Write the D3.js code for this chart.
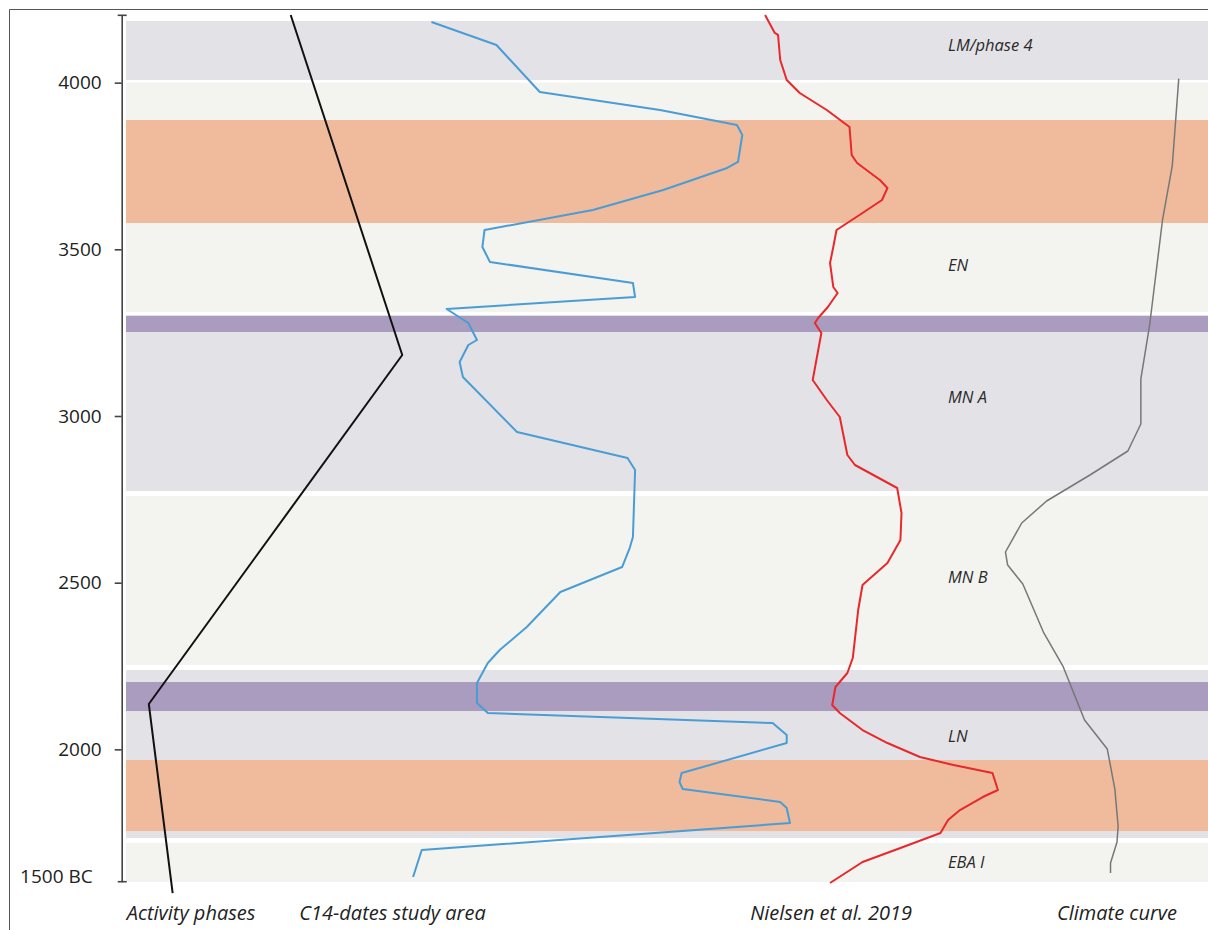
<!DOCTYPE html>
<html><head><meta charset="utf-8">
<script src="https://cdn.jsdelivr.net/npm/d3@7"></script>
<style>
body{margin:0;background:#fff}
svg{display:block}
text{font-family:"Open Sans","Noto Sans",sans-serif}
</style>
</head><body>
<svg id="chart" width="1208" height="930"></svg>
<script>
// ---------- DATA ----------
const tickYears  = [4000, 3500, 3000, 2500, 2000];
const tickLabels = ["4000", "3500", "3000", "2500", "2000"];
const endLabel   = "1500 BC";

const periodNames  = ["LM/phase 4", "EN", "MN A", "MN B", "LN", "EBA I"];
const periodStart  = [4185, 4000, 3303, 2760, 2238, 1719];
const periodEnd    = [4008, 3312, 2775, 2253, 1734, 1602];
const periodShade  = ["dark", "light", "dark", "light", "dark", "light"];
const periodLabelYear = [4113, 3453, 3057, 2517, 2040, 1662];

const eventStart = [3888, 3300, 2202, 1968];
const eventEnd   = [3579, 3252, 2115, 1755];
const eventType  = ["warm", "cold", "cold", "warm"];

const seriesTitles = ["Activity phases", "C14-dates study area", "Nielsen et al. 2019", "Climate curve"];

// [year BC, relative value]
const activity = [[4203,15.3],[3183,25.6],[2136,2.2],[1569,4.4]];

const c14 = [[4182,28.3],[4113,34.3],[4074,35.4],[3972,38.3],[3918,49.4],[3873,56.5],[3843,57.0],
 [3762,56.6],[3744,55.6],[3678,49.7],[3618,43.2],[3558,33.2],[3507,33.0],[3462,33.7],[3399,46.9],
 [3357,47.1],[3321,29.7],[3279,31.7],[3228,32.5],[3213,31.7],[3162,30.9],[3117,31.2],[2952,36.2],
 [2874,46.4],[2838,47.1],[2637,46.9],[2604,46.6],[2547,45.9],[2472,40.2],[2367,37.1],[2298,34.6],
 [2259,33.5],[2199,32.5],[2139,32.5],[2109,33.5],[2079,59.8],[2043,61.1],[2019,61.1],[1929,51.4],
 [1902,51.2],[1881,51.5],[1842,60.5],[1824,61.1],[1779,61.4],[1698,27.4],[1617,26.6]];

const nielsen = [[4203,59.1],[4149,60.0],[4143,60.3],[4068,60.5],[4008,61.1],[3969,62.3],[3918,64.8],
 [3867,66.9],[3783,67.1],[3759,67.6],[3708,69.7],[3684,70.4],[3648,69.9],[3609,68.1],[3558,65.7],
 [3507,65.4],[3459,65.1],[3387,65.4],[3369,65.8],[3327,64.9],[3294,64.0],[3279,63.7],[3249,64.3],
 [3108,63.5],[3048,64.8],[2997,66.0],[2883,66.7],[2853,67.4],[2784,71.3],[2709,71.7],[2628,71.6],
 [2559,70.4],[2493,68.1],[2418,67.7],[2274,67.2],[2229,66.7],[2187,65.6],[2133,65.3],[2109,66.0],
 [2058,68.1],[2019,70.4],[1977,73.4],[1953,76.5],[1929,80.1],[1878,80.6],[1857,79.2],[1818,77.1],
 [1788,76.0],[1749,75.3],[1704,71.6],[1662,68.1],[1599,65.1]];

const climate = [[4012,97.3],[3750,96.7],[3588,95.8],[3270,94.6],[3111,93.8],[2976,93.8],[2895,92.6],
 [2823,89.1],[2745,85.1],[2679,82.8],[2592,81.3],[2553,81.5],[2496,82.9],[2352,84.8],[2250,86.6],
 [2088,88.6],[2001,90.7],[1881,91.4],[1770,91.7],[1722,91.6],[1659,91.0],[1629,91.0]];

// ---------- LAYOUT / STYLE ----------
const W = 1208, H = 930;
const axisX = 121.7, bandX = 126;
const titleCenters = [6.1, 24.7, 65.2, 91.6];
const shadeColor = {dark: "#e3e2e6", light: "#f3f3f0"};
const eventColor = {warm: "#efbb9c", cold: "#a99cbf"};

const svg = d3.select("#chart");
const y = d3.scaleLinear().domain([1603, 4202]).range([881.7, 15.3]);
const x = d3.scaleLinear().domain([0, 100]).range([125, 1208]);

// frame
svg.append("path").attr("d", `M9.5,${H} V9.5 H${W}`).attr("fill", "none")
  .attr("stroke", "#555").attr("stroke-width", 1);

// period bands
svg.append("g").selectAll("rect").data(periodNames).join("rect")
  .attr("x", bandX).attr("width", W - bandX)
  .attr("y", (d, i) => y(periodStart[i]))
  .attr("height", (d, i) => y(periodEnd[i]) - y(periodStart[i]))
  .attr("fill", (d, i) => shadeColor[periodShade[i]]);

// events
svg.append("g").selectAll("rect").data(eventType).join("rect")
  .attr("x", bandX).attr("width", W - bandX)
  .attr("y", (d, i) => y(eventStart[i]))
  .attr("height", (d, i) => y(eventEnd[i]) - y(eventStart[i]))
  .attr("fill", d => eventColor[d]);

// period labels
svg.append("g").selectAll("text").data(periodNames).join("text")
  .attr("x", 948).attr("y", (d, i) => y(periodLabelYear[i]))
  .attr("dy", "0.35em").attr("font-size", 16.5).attr("font-style", "italic")
  .attr("fill", "#2a2a2a").text(d => d);

// axis
const axis = d3.axisLeft(y).tickValues(tickYears)
  .tickFormat((d, i) => tickLabels[i]).tickSize(7).tickSizeOuter(0).tickPadding(13);
const ag = svg.append("g").attr("transform", `translate(${axisX},0)`).call(axis);
ag.select(".domain").attr("stroke", "#444").attr("stroke-width", 1.6);
ag.selectAll(".tick line").attr("stroke", "#444").attr("stroke-width", 1.6);
ag.selectAll(".tick text").attr("font-size", 19).attr("fill", "#222")
  .attr("font-family", "'Open Sans',sans-serif");
// caps at both ends
[y.domain()[0], y.domain()[1]].forEach(v => {
  ag.append("line").attr("x1", -4).attr("x2", 5).attr("y1", y(v)).attr("y2", y(v))
    .attr("stroke", "#444").attr("stroke-width", 1.6);
});
ag.append("text").attr("x", -29).attr("y", y(y.domain()[0]) - 5).attr("dy", "0.35em")
  .attr("text-anchor", "end").attr("font-size", 19).attr("fill", "#222").text(endLabel);

// curves
const line = d3.line().x(d => x(d[1])).y(d => y(d[0]));
const curves = [
  {data: activity, color: "#111", w: 2},
  {data: c14, color: "#4a9dd4", w: 2},
  {data: nielsen, color: "#e8282a", w: 2},
  {data: climate, color: "#777", w: 1.5}
];
svg.append("g").selectAll("path").data(curves).join("path")
  .attr("d", d => line(d.data)).attr("fill", "none")
  .attr("stroke", d => d.color).attr("stroke-width", d => d.w)
  .attr("stroke-linejoin", "round");

// series titles
svg.append("g").selectAll("text").data(seriesTitles).join("text")
  .attr("x", (d, i) => x(titleCenters[i])).attr("y", 920)
  .attr("text-anchor", "middle").attr("font-size", 20).attr("font-style", "italic")
  .attr("fill", "#222").text(d => d);
</script>
</body></html>
